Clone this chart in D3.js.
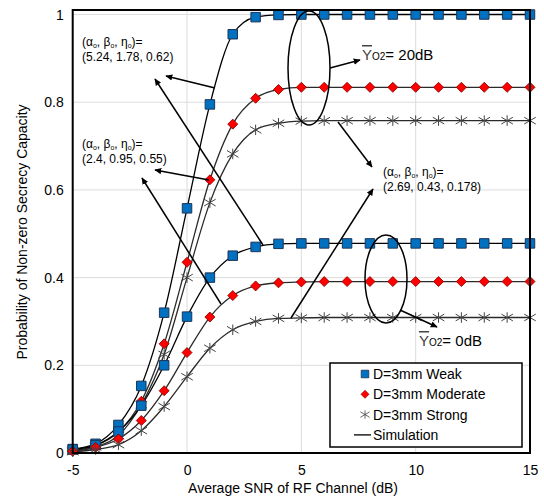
<!DOCTYPE html>
<html>
<head>
<meta charset="utf-8">
<script src="https://cdn.jsdelivr.net/npm/d3@7"></script>
<style>
  html, body { margin: 0; padding: 0; background: #fff; }
  svg { display: block; font-family: Arial, "Liberation Sans", sans-serif; }
</style>
</head>
<body>
<svg id="chart" width="544" height="497"></svg>
<script>
// Average SNR of the RF channel (dB)
const snr = [-5,-4,-3,-2,-1,0,1,2,3,4,5,6,7,8,9,10,11,12,13,14,15];

// Probability of non-zero secrecy capacity, D = 3 mm, average SNR of O2 link = 20 dB
const weak20     = [0.009,0.021,0.064,0.153,0.320,0.558,0.795,0.955,0.994,0.999,1,1,1,1,1,1,1,1,1,1,1];
const moderate20 = [0.005,0.017,0.048,0.118,0.249,0.435,0.623,0.750,0.809,0.829,0.834,0.834,0.834,0.834,0.834,0.834,0.834,0.834,0.834,0.834,0.834];
const strong20   = [0.004,0.014,0.040,0.110,0.225,0.400,0.571,0.682,0.737,0.752,0.757,0.758,0.758,0.758,0.758,0.758,0.758,0.758,0.758,0.758,0.758];

// Same, average SNR of O2 link = 0 dB
const weak0      = [0.008,0.018,0.049,0.108,0.200,0.311,0.400,0.450,0.470,0.477,0.478,0.478,0.478,0.478,0.478,0.478,0.478,0.478,0.478,0.478,0.478];
const moderate0  = [0.004,0.013,0.032,0.074,0.142,0.229,0.310,0.359,0.381,0.388,0.390,0.391,0.391,0.391,0.391,0.391,0.391,0.391,0.391,0.391,0.391];
const strong0    = [0.003,0.008,0.019,0.051,0.106,0.174,0.239,0.281,0.300,0.307,0.308,0.309,0.309,0.309,0.309,0.309,0.309,0.309,0.309,0.309,0.309];

const xTicks = [-5, 0, 5, 10, 15];
const yTicks = [0, 0.2, 0.4, 0.6, 0.8, 1];
const legendLabels = ["D=3mm Weak", "D=3mm Moderate", "D=3mm Strong", "Simulation"];

const svg = d3.select("#chart");
const M = { left: 72, right: 14, top: 10, bottom: 44 };
const W = 544, H = 497;

const x = d3.scaleLinear().domain([-5, 15]).range([M.left + 0.7, W - M.right]);
const y = d3.scaleLinear().domain([0, 1.0103]).range([H - M.bottom, M.top]);

// grid
const g = svg.append("g");
g.selectAll(".gx").data(xTicks).join("line")
  .attr("x1", d => x(d)).attr("x2", d => x(d))
  .attr("y1", y.range()[0]).attr("y2", y.range()[1])
  .attr("stroke", "#dcdcdc").attr("stroke-width", 1);
g.selectAll(".gy").data(yTicks).join("line")
  .attr("x1", x.range()[0]).attr("x2", x.range()[1])
  .attr("y1", d => y(d)).attr("y2", d => y(d))
  .attr("stroke", "#dcdcdc").attr("stroke-width", 1);

// axes (labels only; frame drawn separately)
const xAxis = d3.axisBottom(x).tickValues(xTicks).tickSize(0).tickPadding(12)
  .tickFormat(d => d < 0 ? "-" + Math.abs(d) : d);
svg.append("g").attr("transform", `translate(0,${y(0)})`).call(xAxis)
  .call(s => s.select(".domain").remove())
  .selectAll("text").attr("font-size", 14).attr("fill", "#000")
  .attr("font-family", "Arial, 'Liberation Sans', sans-serif");

const yAxis = d3.axisLeft(y).tickValues(yTicks).tickSize(0).tickPadding(9)
  .tickFormat(d => d === 0 ? "0" : d === 1 ? "1" : d3.format(".1f")(d));
svg.append("g").attr("transform", `translate(${x(-5)},0)`).call(yAxis)
  .call(s => s.select(".domain").remove())
  .selectAll("text").attr("font-size", 14).attr("fill", "#000")
  .attr("font-family", "Arial, 'Liberation Sans', sans-serif");

svg.append("text").attr("x", 293).attr("y", 493)
  .attr("text-anchor", "middle").attr("font-size", 14)
  .text("Average SNR of RF Channel (dB)");
svg.append("text").attr("transform", "translate(27,232) rotate(-90)")
  .attr("text-anchor", "middle").attr("font-size", 14)
  .text("Probability of Non-zero Secrecy Capacity");

// simulation curves
const series = [
  { v: weak20, kind: "weak" },
  { v: moderate20, kind: "moderate" },
  { v: strong20, kind: "strong" },
  { v: weak0, kind: "weak" },
  { v: moderate0, kind: "moderate" },
  { v: strong0, kind: "strong" }
];
const line = d3.line().x((d, i) => x(snr[i])).y(d => y(d)).curve(d3.curveMonotoneX);
svg.append("g").selectAll("path").data(series).join("path")
  .attr("d", d => line(d.v)).attr("fill", "none")
  .attr("stroke", d => d.kind === "weak" ? "#000" : "#2b2b2b")
  .attr("stroke-width", 1.3);

// marker shapes
const starSym = {
  draw(ctx, size) {
    const r = Math.sqrt(size) / 2;
    ctx.moveTo(0, -r); ctx.lineTo(0, r);
    ctx.moveTo(-r * 1.1, -r * 0.65); ctx.lineTo(r * 1.1, r * 0.65);
    ctx.moveTo(-r * 1.1, r * 0.65); ctx.lineTo(r * 1.1, -r * 0.65);
  }
};
function drawMarker(sel, kind) {
  if (kind === "weak") {
    sel.append("path").attr("d", d3.symbol(d3.symbolSquare, 90)())
      .attr("fill", "#0070c0").attr("stroke", "#1d3557").attr("stroke-width", 1);
  } else if (kind === "moderate") {
    sel.append("path").attr("d", d3.symbol(d3.symbolSquare, 50)())
      .attr("transform", "rotate(45)")
      .attr("fill", "#ff0000").attr("stroke", "#8a0000").attr("stroke-width", 0.8);
  } else {
    sel.append("path").attr("d", d3.symbol(starSym, 110)())
      .attr("fill", "none").attr("stroke", "#444").attr("stroke-width", 1);
  }
}

const mk = svg.append("g");
series.forEach(s => {
  s.v.forEach((v, i) => {
    const p = mk.append("g").attr("transform", `translate(${x(snr[i])},${y(v)})`);
    drawMarker(p, s.kind);
  });
});

// annotations
const defs = svg.append("defs");
defs.append("marker").attr("id", "ah").attr("viewBox", "0 0 10 10")
  .attr("refX", 9).attr("refY", 5).attr("markerWidth", 7).attr("markerHeight", 7)
  .attr("markerUnits", "userSpaceOnUse").attr("orient", "auto")
  .append("path").attr("d", "M0,0.5 L10,5 L0,9.5 Z").attr("fill", "#000");

const ann = svg.append("g");
function arrow(x1, y1, x2, y2) {
  ann.append("line").attr("x1", x1).attr("y1", y1).attr("x2", x2).attr("y2", y2)
    .attr("stroke", "#000").attr("stroke-width", 1.5).attr("marker-end", "url(#ah)");
}
function paramLabel(px, py, values) {
  const t1 = ann.append("text").attr("x", px).attr("y", py).attr("font-size", 12);
  const parts = [
    ["(α", 0, 12], ["o", 2, 7], [", β", -2, 12], ["o", 2, 7],
    [", η", -2, 12], ["o", 2, 7], [")=", -2, 12]
  ];
  parts.forEach(([txt, dy, fs]) => {
    t1.append("tspan").attr("dy", dy).attr("font-size", fs).text(txt);
  });
  ann.append("text").attr("x", px).attr("y", py + 15).attr("font-size", 12).text(values);
}
paramLabel(82, 46, "(5.24, 1.78, 0.62)");
paramLabel(82, 148, "(2.4, 0.95, 0.55)");
paramLabel(383, 176, "(2.69, 0.43, 0.178)");

arrow(215, 88, 166, 76);
arrow(263, 245, 155, 79);
arrow(209, 180, 155, 170);
arrow(221, 304, 142, 178);
arrow(338, 122, 372, 167);
arrow(291, 318, 373, 189);

// O2-link SNR groups
ann.append("ellipse").attr("cx", 309).attr("cy", 68).attr("rx", 21).attr("ry", 57)
  .attr("fill", "none").attr("stroke", "#000").attr("stroke-width", 1.5);
ann.append("ellipse").attr("cx", 386).attr("cy", 279).attr("rx", 21).attr("ry", 44)
  .attr("fill", "none").attr("stroke", "#000").attr("stroke-width", 1.5);
arrow(330, 68, 360, 60);
arrow(400, 310, 437, 327);

function snrLabel(px, py, val) {
  const t = ann.append("text").attr("x", px).attr("y", py).attr("font-size", 15);
  t.append("tspan").attr("fill", "#444").attr("text-decoration", "overline").text("Y");
  t.append("tspan").attr("font-size", 10).text("O2");
  t.append("tspan").attr("font-size", 15).text("= " + val);
}
snrLabel(362, 60, "20dB");
snrLabel(419, 346, "0dB");

// plot frame
svg.append("rect").attr("x", x.range()[0]).attr("y", M.top)
  .attr("width", x.range()[1] - x.range()[0]).attr("height", y(0) - M.top)
  .attr("fill", "none").attr("stroke", "#000").attr("stroke-width", 2);

// legend
const lg = svg.append("g");
lg.append("rect").attr("x", 330).attr("y", 363).attr("width", 192).attr("height", 84)
  .attr("fill", "#fff").attr("stroke", "#000").attr("stroke-width", 1.5);
const kinds = ["weak", "moderate", "strong", "sim"];
legendLabels.forEach((lab, i) => {
  const cy = 374 + i * 20.3;
  const k = kinds[i];
  if (k === "sim") {
    lg.append("line").attr("x1", 354).attr("x2", 371).attr("y1", cy).attr("y2", cy)
      .attr("stroke", "#000").attr("stroke-width", 1.3);
  } else {
    const p = lg.append("g").attr("transform", `translate(365,${cy}) scale(0.8)`);
    drawMarker(p, k);
  }
  lg.append("text").attr("x", 373).attr("y", cy + 5).attr("font-size", 14).text(lab);
});
</script>
</body>
</html>
